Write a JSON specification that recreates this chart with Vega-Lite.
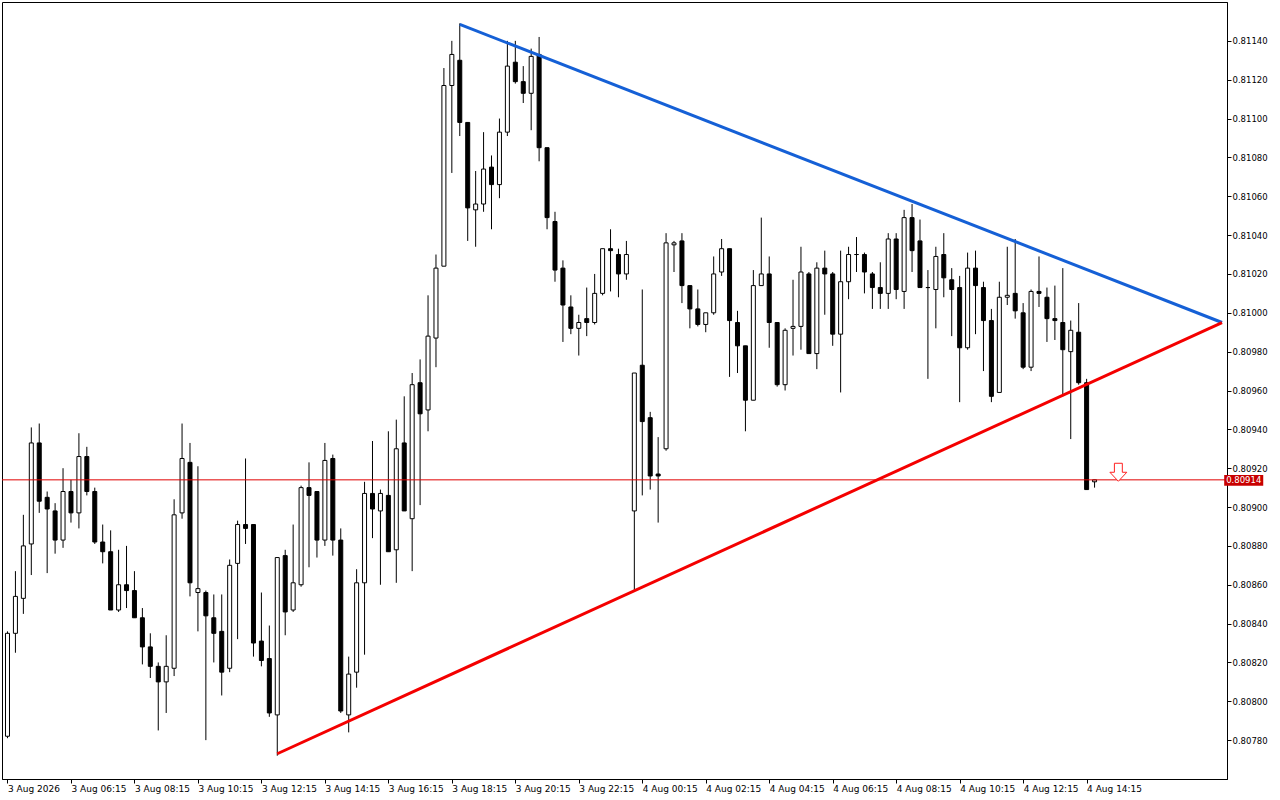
{
  "$schema": "https://vega.github.io/schema/vega-lite/v6.json",
  "width": 1225,
  "height": 777,
  "autosize": {"type": "none"},
  "padding": {"left": 2, "top": 2, "right": 53, "bottom": 21},
  "background": "white",
  "config": {
    "view": {"stroke": "black", "strokeWidth": 1},
    "axis": {
      "grid": false,
      "labelFont": "DejaVu Sans",
      "labelFontSize": 8.5,
      "labelColor": "black",
      "tickColor": "black",
      "domainColor": "black",
      "tickSize": 4
    }
  },
  "datasets": {
    "bars": [
      {"i":0,"o":0.80782,"h":0.80836,"l":0.80781,"c":0.80835},
      {"i":1,"o":0.80835,"h":0.80867,"l":0.80825,"c":0.80854},
      {"i":2,"o":0.80853,"h":0.80896,"l":0.80845,"c":0.80880},
      {"i":3,"o":0.80881,"h":0.80941,"l":0.80865,"c":0.80933},
      {"i":4,"o":0.80933,"h":0.80943,"l":0.80897,"c":0.80903},
      {"i":5,"o":0.80905,"h":0.80908,"l":0.80866,"c":0.80899},
      {"i":6,"o":0.80898,"h":0.80902,"l":0.80876,"c":0.80883},
      {"i":7,"o":0.80883,"h":0.80920,"l":0.80879,"c":0.80908},
      {"i":8,"o":0.80908,"h":0.80914,"l":0.80892,"c":0.80897},
      {"i":9,"o":0.80897,"h":0.80938,"l":0.80889,"c":0.80926},
      {"i":10,"o":0.80926,"h":0.80931,"l":0.80906,"c":0.80908},
      {"i":11,"o":0.80908,"h":0.80910,"l":0.80881,"c":0.80882},
      {"i":12,"o":0.80882,"h":0.80891,"l":0.80871,"c":0.80877},
      {"i":13,"o":0.80877,"h":0.80888,"l":0.80847,"c":0.80847},
      {"i":14,"o":0.80847,"h":0.80878,"l":0.80846,"c":0.80860},
      {"i":15,"o":0.80860,"h":0.80880,"l":0.80848,"c":0.80857},
      {"i":16,"o":0.80857,"h":0.80867,"l":0.80843,"c":0.80843},
      {"i":17,"o":0.80843,"h":0.80848,"l":0.80819,"c":0.80828},
      {"i":18,"o":0.80828,"h":0.80835,"l":0.80812,"c":0.80818},
      {"i":19,"o":0.80818,"h":0.80820,"l":0.80785,"c":0.80810},
      {"i":20,"o":0.80810,"h":0.80834,"l":0.80794,"c":0.80818},
      {"i":21,"o":0.80817,"h":0.80904,"l":0.80813,"c":0.80896},
      {"i":22,"o":0.80897,"h":0.80943,"l":0.80894,"c":0.80925},
      {"i":23,"o":0.80923,"h":0.80933,"l":0.80854,"c":0.80861},
      {"i":24,"o":0.80856,"h":0.80921,"l":0.80836,"c":0.80858},
      {"i":25,"o":0.80856,"h":0.80857,"l":0.80780,"c":0.80844},
      {"i":26,"o":0.80843,"h":0.80855,"l":0.80820,"c":0.80835},
      {"i":27,"o":0.80836,"h":0.80855,"l":0.80803,"c":0.80815},
      {"i":28,"o":0.80817,"h":0.80873,"l":0.80815,"c":0.80870},
      {"i":29,"o":0.80871,"h":0.80893,"l":0.80832,"c":0.80891},
      {"i":30,"o":0.80891,"h":0.80925,"l":0.80881,"c":0.80889},
      {"i":31,"o":0.80891,"h":0.80891,"l":0.80823,"c":0.80830},
      {"i":32,"o":0.80831,"h":0.80856,"l":0.80818,"c":0.80821},
      {"i":33,"o":0.80822,"h":0.80839,"l":0.80792,"c":0.80794},
      {"i":34,"o":0.80793,"h":0.80874,"l":0.80772,"c":0.80874},
      {"i":35,"o":0.80875,"h":0.80878,"l":0.80834,"c":0.80846},
      {"i":36,"o":0.80847,"h":0.80891,"l":0.80846,"c":0.80861},
      {"i":37,"o":0.80860,"h":0.80911,"l":0.80859,"c":0.80910},
      {"i":38,"o":0.80910,"h":0.80923,"l":0.80869,"c":0.80906},
      {"i":39,"o":0.80908,"h":0.80908,"l":0.80874,"c":0.80883},
      {"i":40,"o":0.80883,"h":0.80933,"l":0.80880,"c":0.80924},
      {"i":41,"o":0.80925,"h":0.80927,"l":0.80875,"c":0.80883},
      {"i":42,"o":0.80883,"h":0.80889,"l":0.80794,"c":0.80795},
      {"i":43,"o":0.80793,"h":0.80823,"l":0.80784,"c":0.80814},
      {"i":44,"o":0.80815,"h":0.80868,"l":0.80807,"c":0.80861},
      {"i":45,"o":0.80861,"h":0.80913,"l":0.80824,"c":0.80907},
      {"i":46,"o":0.80907,"h":0.80934,"l":0.80884,"c":0.80899},
      {"i":47,"o":0.80898,"h":0.80909,"l":0.80860,"c":0.80907},
      {"i":48,"o":0.80906,"h":0.80939,"l":0.80877,"c":0.80877},
      {"i":49,"o":0.80878,"h":0.80945,"l":0.80861,"c":0.80930},
      {"i":50,"o":0.80933,"h":0.80957,"l":0.80898,"c":0.80898},
      {"i":51,"o":0.80894,"h":0.80969,"l":0.80867,"c":0.80963},
      {"i":52,"o":0.80964,"h":0.80976,"l":0.80901,"c":0.80948},
      {"i":53,"o":0.80950,"h":0.81009,"l":0.80939,"c":0.80988},
      {"i":54,"o":0.80987,"h":0.81030,"l":0.80972,"c":0.81023},
      {"i":55,"o":0.81024,"h":0.81126,"l":0.81024,"c":0.81117},
      {"i":56,"o":0.81117,"h":0.81140,"l":0.81072,"c":0.81133},
      {"i":57,"o":0.81130,"h":0.81149,"l":0.81091,"c":0.81098},
      {"i":58,"o":0.81098,"h":0.81098,"l":0.81037,"c":0.81054},
      {"i":59,"o":0.81053,"h":0.81073,"l":0.81034,"c":0.81056},
      {"i":60,"o":0.81056,"h":0.81093,"l":0.81052,"c":0.81074},
      {"i":61,"o":0.81075,"h":0.81081,"l":0.81043,"c":0.81066},
      {"i":62,"o":0.81066,"h":0.81100,"l":0.81059,"c":0.81093},
      {"i":63,"o":0.81093,"h":0.81140,"l":0.81091,"c":0.81127},
      {"i":64,"o":0.81129,"h":0.81140,"l":0.81118,"c":0.81119},
      {"i":65,"o":0.81119,"h":0.81127,"l":0.81108,"c":0.81113},
      {"i":66,"o":0.81113,"h":0.81136,"l":0.81094,"c":0.81132},
      {"i":67,"o":0.81133,"h":0.81142,"l":0.81078,"c":0.81085},
      {"i":68,"o":0.81085,"h":0.81085,"l":0.81043,"c":0.81049},
      {"i":69,"o":0.81047,"h":0.81052,"l":0.81016,"c":0.81022},
      {"i":70,"o":0.81023,"h":0.81027,"l":0.80985,"c":0.81004},
      {"i":71,"o":0.81003,"h":0.81009,"l":0.80989,"c":0.80992},
      {"i":72,"o":0.80992,"h":0.80999,"l":0.80978,"c":0.80995},
      {"i":73,"o":0.80997,"h":0.81013,"l":0.80988,"c":0.80995},
      {"i":74,"o":0.80995,"h":0.81020,"l":0.80994,"c":0.81010},
      {"i":75,"o":0.81010,"h":0.81033,"l":0.81009,"c":0.81033},
      {"i":76,"o":0.81033,"h":0.81043,"l":0.81011,"c":0.81032},
      {"i":77,"o":0.81030,"h":0.81033,"l":0.81008,"c":0.81020},
      {"i":78,"o":0.81020,"h":0.81037,"l":0.81017,"c":0.81030},
      {"i":79,"o":0.80898,"h":0.80969,"l":0.80857,"c":0.80969},
      {"i":80,"o":0.80973,"h":0.81012,"l":0.80906,"c":0.80944},
      {"i":81,"o":0.80946,"h":0.80949,"l":0.80909,"c":0.80916},
      {"i":82,"o":0.80917,"h":0.80936,"l":0.80892,"c":0.80916},
      {"i":83,"o":0.80930,"h":0.81041,"l":0.80929,"c":0.81036},
      {"i":84,"o":0.81035,"h":0.81037,"l":0.81021,"c":0.81036},
      {"i":85,"o":0.81037,"h":0.81041,"l":0.81005,"c":0.81014},
      {"i":86,"o":0.81014,"h":0.81014,"l":0.80992,"c":0.81002},
      {"i":87,"o":0.81002,"h":0.81012,"l":0.80993,"c":0.80994},
      {"i":88,"o":0.80994,"h":0.81000,"l":0.80990,"c":0.81000},
      {"i":89,"o":0.81000,"h":0.81029,"l":0.80999,"c":0.81020},
      {"i":90,"o":0.81021,"h":0.81038,"l":0.81019,"c":0.81033},
      {"i":91,"o":0.81033,"h":0.81033,"l":0.80967,"c":0.80996},
      {"i":92,"o":0.80995,"h":0.81001,"l":0.80969,"c":0.80983},
      {"i":93,"o":0.80983,"h":0.80983,"l":0.80939,"c":0.80955},
      {"i":94,"o":0.80955,"h":0.81022,"l":0.80955,"c":0.81014},
      {"i":95,"o":0.81014,"h":0.81049,"l":0.81014,"c":0.81020},
      {"i":96,"o":0.81020,"h":0.81029,"l":0.80982,"c":0.80995},
      {"i":97,"o":0.80995,"h":0.80995,"l":0.80962,"c":0.80963},
      {"i":98,"o":0.80963,"h":0.80992,"l":0.80960,"c":0.80991},
      {"i":99,"o":0.80992,"h":0.81017,"l":0.80978,"c":0.80993},
      {"i":100,"o":0.80993,"h":0.81034,"l":0.80981,"c":0.81021},
      {"i":101,"o":0.81020,"h":0.81021,"l":0.80979,"c":0.80979},
      {"i":102,"o":0.80979,"h":0.81026,"l":0.80971,"c":0.81023},
      {"i":103,"o":0.81023,"h":0.81032,"l":0.80999,"c":0.81020},
      {"i":104,"o":0.81020,"h":0.81021,"l":0.80983,"c":0.80989},
      {"i":105,"o":0.80989,"h":0.81032,"l":0.80959,"c":0.81016},
      {"i":106,"o":0.81016,"h":0.81034,"l":0.81007,"c":0.81030},
      {"i":107,"o":0.81030,"h":0.81039,"l":0.81021,"c":0.81030},
      {"i":108,"o":0.81030,"h":0.81031,"l":0.81010,"c":0.81021},
      {"i":109,"o":0.81020,"h":0.81021,"l":0.81002,"c":0.81013},
      {"i":110,"o":0.81013,"h":0.81026,"l":0.81002,"c":0.81010},
      {"i":111,"o":0.81010,"h":0.81041,"l":0.81002,"c":0.81038},
      {"i":112,"o":0.81038,"h":0.81041,"l":0.81007,"c":0.81012},
      {"i":113,"o":0.81011,"h":0.81053,"l":0.81002,"c":0.81049},
      {"i":114,"o":0.81049,"h":0.81056,"l":0.81021,"c":0.81032},
      {"i":115,"o":0.81037,"h":0.81048,"l":0.81013,"c":0.81013},
      {"i":116,"o":0.81013,"h":0.81022,"l":0.80966,"c":0.81013},
      {"i":117,"o":0.81012,"h":0.81034,"l":0.80992,"c":0.81029},
      {"i":118,"o":0.81030,"h":0.81041,"l":0.81008,"c":0.81018},
      {"i":119,"o":0.81017,"h":0.81023,"l":0.80988,"c":0.81012},
      {"i":120,"o":0.81013,"h":0.81019,"l":0.80954,"c":0.80982},
      {"i":121,"o":0.80982,"h":0.81031,"l":0.80981,"c":0.81023},
      {"i":122,"o":0.81023,"h":0.81032,"l":0.80989,"c":0.81014},
      {"i":123,"o":0.81013,"h":0.81016,"l":0.80970,"c":0.80996},
      {"i":124,"o":0.80996,"h":0.81002,"l":0.80954,"c":0.80957},
      {"i":125,"o":0.80959,"h":0.81016,"l":0.80959,"c":0.81008},
      {"i":126,"o":0.81008,"h":0.81034,"l":0.81004,"c":0.81009},
      {"i":127,"o":0.81010,"h":0.81038,"l":0.80997,"c":0.81001},
      {"i":128,"o":0.81000,"h":0.81005,"l":0.80971,"c":0.80972},
      {"i":129,"o":0.80972,"h":0.81012,"l":0.80970,"c":0.81011},
      {"i":130,"o":0.81011,"h":0.81029,"l":0.81003,"c":0.81010},
      {"i":131,"o":0.81008,"h":0.81013,"l":0.80985,"c":0.80997},
      {"i":132,"o":0.80997,"h":0.81014,"l":0.80986,"c":0.80996},
      {"i":133,"o":0.80995,"h":0.81023,"l":0.80957,"c":0.80981},
      {"i":134,"o":0.80980,"h":0.80996,"l":0.80935,"c":0.80991},
      {"i":135,"o":0.80990,"h":0.81005,"l":0.80963,"c":0.80964},
      {"i":136,"o":0.80964,"h":0.80966,"l":0.80909,"c":0.80909},
      {"i":137,"o":0.80913,"h":0.80914,"l":0.80910,"c":0.80914}
    ],
    "resistance": [
      {"i":57,"p":0.811485},
      {"i":153.0625,"p":0.80995}
    ],
    "support": [
      {"i":34,"p":0.80773},
      {"i":153.0625,"p":0.80995}
    ],
    "bid": [{"p":0.80914}],
    "signal": [{"i":140,"p":0.809179}],
    "tag": [{"x1":153.34,"x2":158.26,"y1":0.809165,"y2":0.80911,"xm":155.8,"p":0.80914,"label":"0.80914"}]
  },
  "layer": [
    {
      "data": {"name": "bars"},
      "mark": {"type": "rule", "color": "black", "strokeWidth": 1, "clip": true},
      "encoding": {
        "x": {
          "field": "i",
          "type": "quantitative",
          "scale": {"domain": [-0.0625, 153.0625], "nice": false, "zero": false},
          "axis": {
            "title": null,
            "orient": "bottom",
            "values": [0, 8, 16, 24, 32, 40, 48, 56, 64, 72, 80, 88, 96, 104, 112, 120, 128, 136],
            "labelExpr": "['3 Aug 2026','3 Aug 06:15','3 Aug 08:15','3 Aug 10:15','3 Aug 12:15','3 Aug 14:15','3 Aug 16:15','3 Aug 18:15','3 Aug 20:15','3 Aug 22:15','4 Aug 00:15','4 Aug 02:15','4 Aug 04:15','4 Aug 06:15','4 Aug 08:15','4 Aug 10:15','4 Aug 12:15','4 Aug 14:15'][round(datum.value / 8)]",
            "labelAlign": "left",
            "labelBaseline": "top",
            "labelFontSize": 9,
            "labelPadding": 1,
            "labelOverlap": false,
            "labelFlush": false,
            "labelBound": false
          }
        },
        "y": {
          "field": "l",
          "type": "quantitative",
          "scale": {"domain": [0.8076, 0.8116], "nice": false, "zero": false},
          "axis": {
            "title": null,
            "orient": "right",
            "values": [0.8078, 0.808, 0.8082, 0.8084, 0.8086, 0.8088, 0.809, 0.8092, 0.8094, 0.8096, 0.8098, 0.81, 0.8102, 0.8104, 0.8106, 0.8108, 0.811, 0.8112, 0.8114],
            "format": ".5f",
            "labelAlign": "left",
            "labelPadding": 1,
            "labelOverlap": false,
            "labelFlush": false
          }
        },
        "y2": {"field": "h"}
      }
    },
    {
      "data": {"name": "bars"},
      "mark": {"type": "bar", "size": 4, "stroke": "black", "strokeWidth": 1, "clip": true},
      "encoding": {
        "x": {"field": "i", "type": "quantitative", "scale": {"domain": [-0.0625, 153.0625], "nice": false, "zero": false}, "axis": {"title": null}},
        "y": {"field": "o", "type": "quantitative", "scale": {"domain": [0.8076, 0.8116], "nice": false, "zero": false}, "axis": {"title": null}},
        "y2": {"field": "c"},
        "fill": {"condition": {"test": "datum.c >= datum.o", "value": "white"}, "value": "black"}
      }
    },
    {
      "data": {"name": "bid"},
      "mark": {"type": "rule", "color": "#e00000", "strokeWidth": 1},
      "encoding": {
        "y": {"field": "p", "type": "quantitative", "scale": {"domain": [0.8076, 0.8116], "nice": false, "zero": false}, "axis": {"title": null}}
      }
    },
    {
      "data": {"name": "resistance"},
      "mark": {"type": "line", "color": "#1560d6", "strokeWidth": 3, "clip": true},
      "encoding": {
        "x": {"field": "i", "type": "quantitative", "scale": {"domain": [-0.0625, 153.0625], "nice": false, "zero": false}, "axis": {"title": null}},
        "y": {"field": "p", "type": "quantitative", "scale": {"domain": [0.8076, 0.8116], "nice": false, "zero": false}, "axis": {"title": null}}
      }
    },
    {
      "data": {"name": "support"},
      "mark": {"type": "line", "color": "#f40000", "strokeWidth": 3, "clip": true},
      "encoding": {
        "x": {"field": "i", "type": "quantitative", "scale": {"domain": [-0.0625, 153.0625], "nice": false, "zero": false}, "axis": {"title": null}},
        "y": {"field": "p", "type": "quantitative", "scale": {"domain": [0.8076, 0.8116], "nice": false, "zero": false}, "axis": {"title": null}}
      }
    },
    {
      "data": {"name": "signal"},
      "mark": {
        "type": "point",
        "shape": "M-0.44,-1L0.44,-1L0.44,0L0.94,0L0,1L-0.94,0L-0.44,0Z",
        "size": 324,
        "filled": true,
        "fill": "white",
        "stroke": "#ff2020",
        "strokeWidth": 1,
        "opacity": 1
      },
      "encoding": {
        "x": {"field": "i", "type": "quantitative", "scale": {"domain": [-0.0625, 153.0625], "nice": false, "zero": false}, "axis": {"title": null}},
        "y": {"field": "p", "type": "quantitative", "scale": {"domain": [0.8076, 0.8116], "nice": false, "zero": false}, "axis": {"title": null}}
      }
    },
    {
      "data": {"name": "tag"},
      "mark": {"type": "rect", "color": "#c80000", "clip": false},
      "encoding": {
        "x": {"field": "x1", "type": "quantitative", "scale": {"domain": [-0.0625, 153.0625], "nice": false, "zero": false}, "axis": {"title": null}},
        "x2": {"field": "x2"},
        "y": {"field": "y1", "type": "quantitative", "scale": {"domain": [0.8076, 0.8116], "nice": false, "zero": false}, "axis": {"title": null}},
        "y2": {"field": "y2"}
      }
    },
    {
      "data": {"name": "tag"},
      "mark": {"type": "text", "color": "white", "font": "DejaVu Sans", "fontSize": 8.5, "align": "center", "baseline": "middle", "clip": false},
      "encoding": {
        "x": {"field": "xm", "type": "quantitative", "scale": {"domain": [-0.0625, 153.0625], "nice": false, "zero": false}, "axis": {"title": null}},
        "y": {"field": "p", "type": "quantitative", "scale": {"domain": [0.8076, 0.8116], "nice": false, "zero": false}, "axis": {"title": null}},
        "text": {"field": "label"}
      }
    }
  ]
}
